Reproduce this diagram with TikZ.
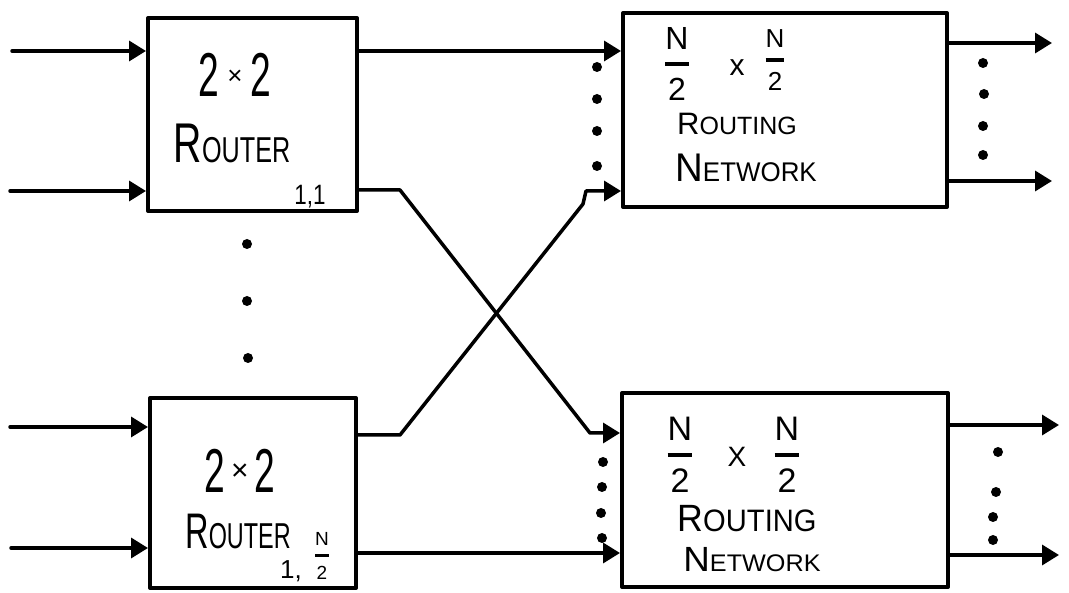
\documentclass[tikz,border=0pt]{standalone}
\usepackage{fontspec}
\setmainfont{Liberation Sans}
\usetikzlibrary{arrows.meta}
\newcommand\mixcaps[4]{{\fontsize{#1}{#1}\selectfont #3}{\fontsize{#2}{#2}\selectfont #4}}
\newcommand\fracN[2]{{\fontsize{#1}{#1}\selectfont$\displaystyle{\mbox{N}\above #2\mbox{2}}$}}
\newcommand\fsz[1]{\fontsize{#1}{#1}\selectfont}
\begin{document}
\begin{tikzpicture}[x=1pt,y=-1pt, line cap=round, line join=round,
  box/.style={draw, line width=4pt, inner sep=0pt, rectangle},
  arr/.style={line width=3.5pt, -{Triangle[length=17pt,width=20pt]}},
  dot/.style={circle, fill, inner sep=0pt, minimum size=10pt},
  lbl/.style={inner sep=0pt, anchor=base},
  ctr/.style={inner sep=0pt, anchor=center},
]
\useasboundingbox (0,0) rectangle (1069,593);

% boxes
\node[box, minimum width=209pt, minimum height=193pt] (r1) at (252.5,114.5) {};
\node[box, minimum width=206pt, minimum height=190pt] (r2) at (253,493) {};
\node[box, minimum width=324pt, minimum height=194pt] (n1) at (785,110) {};
\node[box, minimum width=326pt, minimum height=194pt] (n2) at (785,490) {};

% inputs
\coordinate (a1) at (12,51);
\coordinate (a2) at (10,191);
\coordinate (a3) at (10,427);
\coordinate (a4) at (11,548);
\draw[arr] (a1) -- (a1 -| r1.west);
\draw[arr] (a2) -- (a2 -| r1.west);
\draw[arr] (a3) -- (a3 -| r2.west);
\draw[arr] (a4) -- (a4 -| r2.west);

% router to network
\draw[arr] (r1.east |- a1) -- (n1.west |- a1);
\coordinate (k1) at (400,190);
\coordinate (k2) at (590,433);
\draw[arr] (r1.east |- k1) -- (k1) -- (k2) -- (k2 -| n2.west);
\coordinate (k3) at (400,435);
\coordinate (k4) at (583,204);
\coordinate (k5) at (586,191);
\draw[arr] (r2.east |- k3) -- (k3) -- (k4) -- (k5) -- (k5 -| n1.west);
\coordinate (k6) at (400,553);
\draw[arr] (r2.east |- k6) -- (n2.west |- k6);

% outputs
\coordinate (e1) at (1052,43);
\coordinate (e2) at (1052,181);
\coordinate (e3) at (1059,425);
\coordinate (e4) at (1059,555);
\draw[arr] (n1.east |- e1) -- (e1);
\draw[arr] (n1.east |- e2) -- (e2);
\draw[arr] (n2.east |- e3) -- (e3);
\draw[arr] (n2.east |- e4) -- (e4);

% dots
\foreach \p [count=\i] in {(247,244),(247,301),(248,358)} \node[dot] (d\i) at \p {};
\foreach \p [count=\i] in {(597,67),(597,99),(597,131),(597,166)} \node[dot] (l\i) at \p {};
\foreach \p [count=\i] in {(983,63),(984,94),(983,126),(983,155)} \node[dot] (m\i) at \p {};
\foreach \p [count=\i] in {(603,462),(602,487),(601,513),(602,538)} \node[dot] (p\i) at \p {};
\foreach \p [count=\i] in {(998,452),(996,492),(993,517),(993,540)} \node[dot] (q\i) at \p {};

% router 1 text
\node[lbl] (t1) at (235,97) {\fsz{62}\scalebox{0.6}[1]{2}\hspace{8pt}\raisebox{12pt}{\fsz{26}×}\hspace{8pt}\scalebox{0.6}[1]{2}};
\node[lbl] (t2) at (232,163) {\scalebox{0.7}[1]{\mixcaps{56}{36}{R}{OUTER}}};
\node[lbl] (t3) at (310,205) {\fsz{28}\scalebox{0.8}[1]{1,1}};

% router 2 text
\node[lbl] (t4) at (240,493) {\fsz{62}\scalebox{0.6}[1]{2}\hspace{6pt}\raisebox{12pt}{\fsz{30}×}\hspace{6pt}\scalebox{0.6}[1]{2}};
\node[lbl] (t5) at (238,548) {\scalebox{0.65}[1]{\mixcaps{50}{36}{R}{OUTER}}};
\node[lbl] (t6) at (291,578) {\fsz{26}1,};
\node[ctr] (t7) at (322,556) {\fracN{19}{3pt}};

% network 1 text
\node[ctr] (u1) at (677,64) {\fracN{32}{4pt}};
\node[ctr] (u2) at (737,68) {\fsz{30}x};
\node[ctr] (u3) at (775,60) {\fracN{26}{3.5pt}};
\node[lbl] (u4) at (737,135) {\mixcaps{31}{25}{R}{OUTING}};
\node[lbl] (u5) at (746,182) {\scalebox{0.96}[1]{\mixcaps{40}{27}{N}{ETWORK}}};

% network 2 text
\node[ctr] (v1) at (680,455) {\fracN{34}{4pt}};
\node[ctr] (v2) at (737,457) {\fsz{28}X};
\node[ctr] (v3) at (787,455) {\fracN{34}{4pt}};
\node[lbl] (v4) at (747,532) {\scalebox{0.94}[1]{\mixcaps{38}{31}{R}{OUTING}}};
\node[lbl] (v5) at (752,572) {\scalebox{1.05}[1]{\mixcaps{35}{24}{N}{ETWORK}}};
\end{tikzpicture}
\end{document}
